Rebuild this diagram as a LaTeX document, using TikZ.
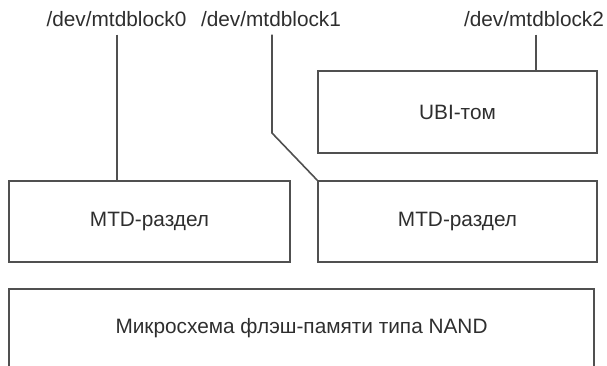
\documentclass[tikz,border=0pt]{standalone}
\usepackage{fontspec}
\setmainfont{Liberation Sans}
\definecolor{edgegray}{HTML}{505050}
\definecolor{inkgray}{HTML}{2E2E2E}
\newcommand{\lblfont}{\fontsize{20.8}{25}\selectfont}
\begin{document}
\begin{tikzpicture}[x=1pt,y=-1pt,
  block/.style={draw=edgegray, line width=1.6pt, rectangle, inner sep=0pt,
                text=inkgray, font=\lblfont},
  devlabel/.style={text=inkgray, font=\lblfont, anchor=base, inner xsep=0pt,
                   inner ysep=7.5pt, text depth=0pt},
  link/.style={draw=edgegray, line width=1.6pt}]
  \useasboundingbox (0,0) rectangle (607,366);
  \clip (0,0) rectangle (607,366);

  % device node names
  \node[devlabel] (l0) at (116.5,27) {/dev/mtdblock0};
  \node[devlabel] (l1) at (271,27) {/dev/mtdblock1};
  \node[devlabel] (l2) at (534,27) {/dev/mtdblock2};

  % layers
  \node[block, minimum width=279pt, minimum height=82pt] (ubi) at (457.5,112) {UBI-том};
  \node[block, minimum width=281pt, minimum height=81pt] (mtdA) at (149.5,221.5) {MTD-раздел};
  \node[block, minimum width=279pt, minimum height=81pt] (mtdB) at (457.5,221.5) {MTD-раздел};
  \node[block, minimum width=585pt, minimum height=79pt] (nand) at (301.5,328.5) {Микросхема флэш-памяти типа NAND};

  % connections from device nodes to layers
  \coordinate (k1) at (272,133);
  \draw[link] ([xshift=0.5pt]l0.south) -- ([xshift=0.5pt]l0.south |- mtdA.north);
  \draw[link] (l1.south -| k1) -- (k1) -- (mtdB.north west);
  \draw[link] ([xshift=2pt]l2.south) -- ([xshift=2pt]l2.south |- ubi.north);
\end{tikzpicture}
\end{document}
